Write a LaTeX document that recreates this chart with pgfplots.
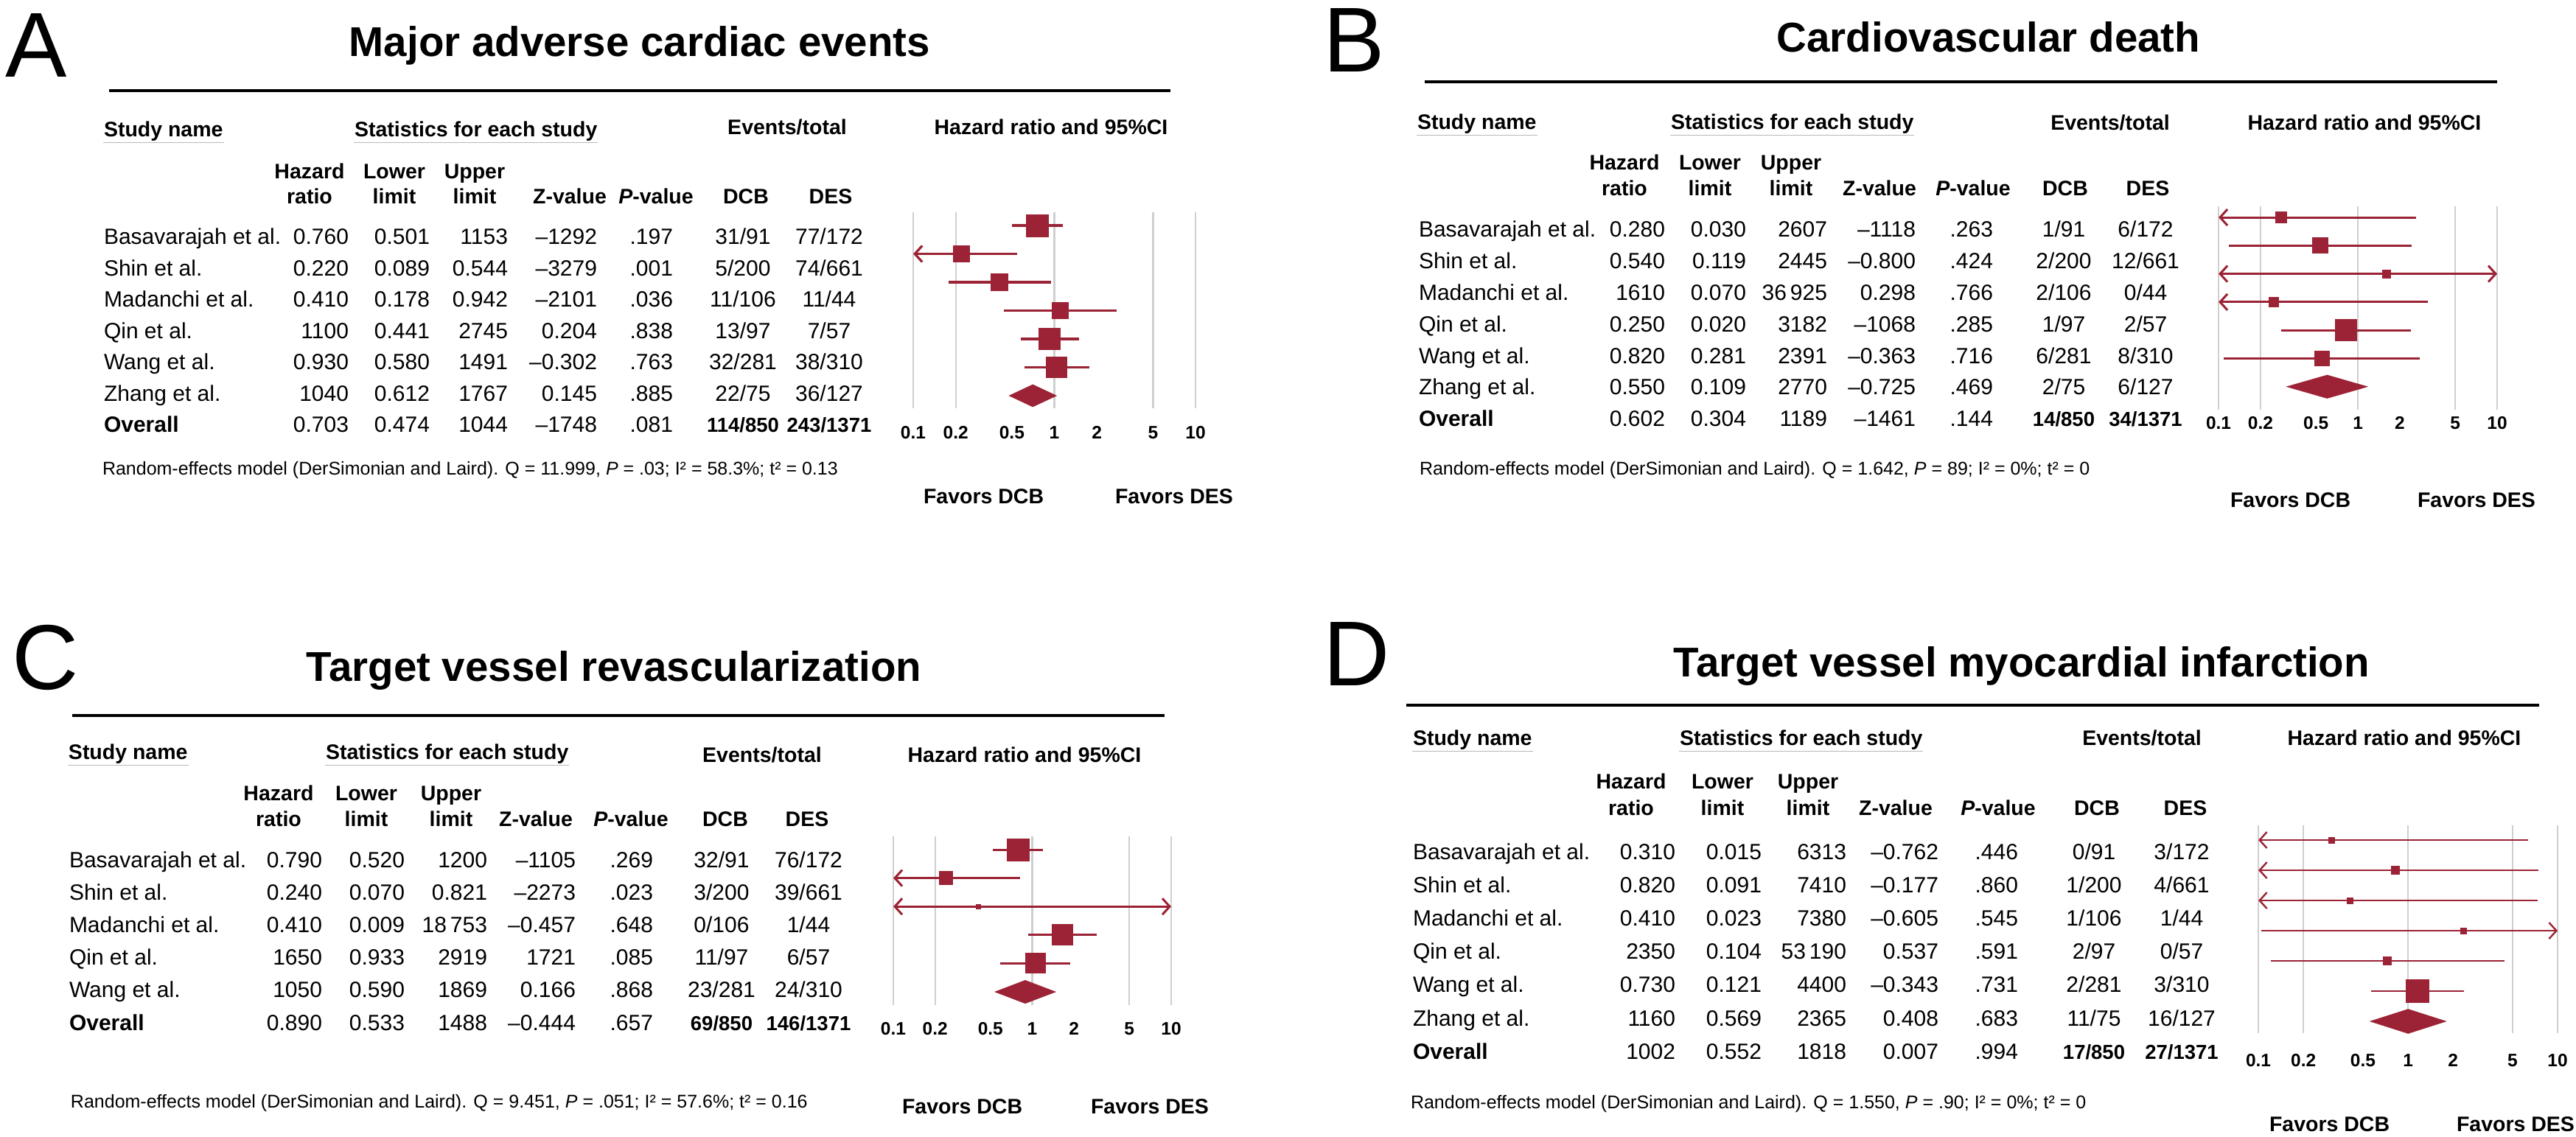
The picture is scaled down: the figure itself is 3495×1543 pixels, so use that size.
\documentclass[border=0pt]{standalone}
\usepackage{fontspec}
\setmainfont{Liberation Sans}
\usepackage{pgfplots}
\pgfplotsset{compat=1.18}
\usetikzlibrary{arrows.meta}

\definecolor{hrred}{HTML}{9B2335}
\definecolor{gridgray}{HTML}{CFCFCF}

\newcommand\fh{\fontsize{5.7}{6}\selectfont\bfseries}
\newcommand\fn{\fontsize{6}{7}\selectfont}
\newcommand\fo{\fontsize{5.5}{6}\selectfont\bfseries}
\newcommand\fr{\fontsize{5}{6}\selectfont}
\newcommand\ft{\fontsize{11.3}{13}\selectfont\bfseries}
\newcommand\fl{\fontsize{25}{30}\selectfont}
\def\ciw{0.65pt}

\tikzset{>={Straight Barb[length=2pt,width=4.4pt]}}

% all four axes are forest plots on the same log scale
\pgfplotsset{
  xmin=0.1, xmax=10, scale only axis, clip=false,
  axis line style={draw=none}, major tick length=0pt, minor tick length=0pt,
  ytick=\empty, xminorticks=false,
  xtick={0.1,0.2,0.5,1,2,5,10},
  xticklabels={0.1,0.2,0.5,1,2,5,10},
  xticklabel style={font=\bfseries\fontsize{4.9}{5}\selectfont, anchor=base, inner sep=0pt},
  ci/.style={hrred, line width=\ciw},
}

% [arrows] row, hazard ratio, lower, upper, half side of square
\newcommand\study[6][]{%
  \addplot[ci,#1] coordinates {(#4,-#2) (#5,-#2)};
  \addplot[hrred, only marks, mark=square*, mark size=#6, mark options={line width=0pt, fill=hrred, draw=hrred}] coordinates {(#3,-#2)};
}

% table helpers
\newcommand\setcols[8]{\def\cN{#1}\def\cH{#2}\def\cL{#3}\def\cU{#4}\def\cZ{#5}\def\cP{#6}\def\cD{#7}\def\cE{#8}}
\newcommand\trow[9]{%
  \node[anchor=base west] at (\cN,#1) {#2};
  \node[anchor=base east] at (\cH,#1) {#3};
  \node[anchor=base east] at (\cL,#1) {#4};
  \node[anchor=base east] at (\cU,#1) {#5};
  \node[anchor=base east] at (\cZ,#1) {#6};
  \node[anchor=base east] at (\cP,#1) {#7};
  \node[anchor=base] at (\cD,#1) {#8};
  \node[anchor=base] at (\cE,#1) {#9};
}
\newcommand\colheads[9]{%
  \node[font=\fh, anchor=base] at (#3,#1) {Hazard};
  \node[font=\fh, anchor=base] at (#3,#2) {ratio};
  \node[font=\fh, anchor=base] at (#4,#1) {Lower};
  \node[font=\fh, anchor=base] at (#4,#2) {limit};
  \node[font=\fh, anchor=base] at (#5,#1) {Upper};
  \node[font=\fh, anchor=base] at (#5,#2) {limit};
  \node[font=\fh, anchor=base] at (#6,#2) {Z-value};
  \node[font=\fh, anchor=base] at (#7,#2) {\textit{P}-value};
  \node[font=\fh, anchor=base] at (#8,#2) {DCB};
  \node[font=\fh, anchor=base] at (#9,#2) {DES};
}
\newcommand\uline[3]{%
  \node[font=\fh, anchor=base west] (u) at (#1,#2) {#3};
  \draw[gray!55, line width=0.35pt] ([yshift=-1.5pt]u.base west) -- ([yshift=-1.5pt]u.base east);
}
\newcommand\toprow[6]{% y, x study name, x statistics, centre events, centre HR, y of the two right headers
  \uline{#2}{#1}{Study name}
  \uline{#3}{#1}{Statistics for each study}
  \node[font=\fh, anchor=base] at (#4,#6) {Events/total};
  \node[font=\fh, anchor=base] at (#5,#6) {Hazard ratio and 95\%CI};
}

\begin{document}
\begin{tikzpicture}
\begin{scope}[x=0.2pt, y=-0.2pt, every node/.style={inner sep=0pt}, font=\fn]
\useasboundingbox (0,0) rectangle (3495,1543);

% ---------------- A ----------------
\node[font=\fl, anchor=base west] at (6,105) {A};
\node[font=\ft, anchor=base] at (868,77) {Major adverse cardiac events};
\draw[line width=0.8pt] (148,123) -- (1588,123);
\toprow{186}{140}{480}{1068}{1426}{183}
\colheads{243}{277}{420}{535}{644}{773}{890}{1012}{1127}
\setcols{140}{474}{584}{690}{811}{914}{1008}{1125}
\trow{332}{Basavarajah et al.}{0.760}{0.501}{1153}{\textendash1292}{.197}{31/91}{77/172}
\trow{374.5}{Shin et al.}{0.220}{0.089}{0.544}{\textendash3279}{.001}{5/200}{74/661}
\trow{417}{Madanchi et al.}{0.410}{0.178}{0.942}{\textendash2101}{.036}{11/106}{11/44}
\trow{459.5}{Qin et al.}{1100}{0.441}{2745}{0.204}{.838}{13/97}{7/57}
\trow{502}{Wang et al.}{0.930}{0.580}{1491}{\textendash0.302}{.763}{32/281}{38/310}
\trow{544.5}{Zhang et al.}{1040}{0.612}{1767}{0.145}{.885}{22/75}{36/127}
\trow{587}{\textbf{Overall}}{0.703}{0.474}{1044}{\textendash1748}{.081}{\fo 114/850}{\fo 243/1371}
\node[font=\fr, anchor=base west] at (138,645) {Random-effects model (DerSimonian and Laird). Q = 11.999, \textit{P} = .03; I² = 58.3\%; t² = 0.13};
\node[font=\fh, anchor=base west] at (1252,684) {Favors DCB};
\node[font=\fh, anchor=base west] at (1512,684) {Favors DES};

% ---------------- B ----------------
\node[font=\fl, anchor=base west] at (1794,98) {B};
\node[font=\ft, anchor=base] at (2698,71) {Cardiovascular death};
\draw[line width=0.8pt] (1933,111) -- (3388,111);
\toprow{176}{1922}{2266}{2863}{3208}{177}
\colheads{231}{266}{2204}{2320}{2430}{2550}{2677}{2802}{2914}
\setcols{1924}{2260}{2370}{2480}{2600}{2705}{2800}{2911}
\trow{322}{Basavarajah et al.}{0.280}{0.030}{2607}{\textendash1118}{.263}{1/91}{6/172}
\trow{364.8}{Shin et al.}{0.540}{0.119}{2445}{\textendash0.800}{.424}{2/200}{12/661}
\trow{407.6}{Madanchi et al.}{1610}{0.070}{36\,925}{0.298}{.766}{2/106}{0/44}
\trow{450.4}{Qin et al.}{0.250}{0.020}{3182}{\textendash1068}{.285}{1/97}{2/57}
\trow{493.2}{Wang et al.}{0.820}{0.281}{2391}{\textendash0.363}{.716}{6/281}{8/310}
\trow{536}{Zhang et al.}{0.550}{0.109}{2770}{\textendash0.725}{.469}{2/75}{6/127}
\trow{578.8}{\textbf{Overall}}{0.602}{0.304}{1189}{\textendash1461}{.144}{\fo 14/850}{\fo 34/1371}
\node[font=\fr, anchor=base west] at (1925,645) {Random-effects model (DerSimonian and Laird). Q = 1.642, \textit{P} = 89; I² = 0\%; t² = 0};
\node[font=\fh, anchor=base west] at (3025,689) {Favors DCB};
\node[font=\fh, anchor=base west] at (3279,689) {Favors DES};

% ---------------- C ----------------
\node[font=\fl, anchor=base west] at (16,936) {C};
\node[font=\ft, anchor=base] at (833,925) {Target vessel revascularization};
\draw[line width=0.8pt] (98,971) -- (1580,971);
\toprow{1031}{92}{441}{1034}{1390}{1034}
\colheads{1086}{1121}{378}{497}{612}{727}{856}{984}{1095}
\setcols{93}{438}{550}{662}{782}{887}{979}{1097}
\trow{1177}{Basavarajah et al.}{0.790}{0.520}{1200}{\textendash1105}{.269}{32/91}{76/172}
\trow{1221.2}{Shin et al.}{0.240}{0.070}{0.821}{\textendash2273}{.023}{3/200}{39/661}
\trow{1265.4}{Madanchi et al.}{0.410}{0.009}{18\,753}{\textendash0.457}{.648}{0/106}{1/44}
\trow{1309.6}{Qin et al.}{1650}{0.933}{2919}{1721}{.085}{11/97}{6/57}
\trow{1353.8}{Wang et al.}{1050}{0.590}{1869}{0.166}{.868}{23/281}{24/310}
\trow{1398}{\textbf{Overall}}{0.890}{0.533}{1488}{\textendash0.444}{.657}{\fo 69/850}{\fo 146/1371}
\node[font=\fr, anchor=base west] at (95,1503) {Random-effects model (DerSimonian and Laird). Q = 9.451, \textit{P} = .051; I² = 57.6\%; t² = 0.16};
\node[font=\fh, anchor=base west] at (1223,1511) {Favors DCB};
\node[font=\fh, anchor=base west] at (1479,1511) {Favors DES};

% ---------------- D ----------------
\node[font=\fl, anchor=base west] at (1794,931) {D};
\node[font=\ft, anchor=base] at (2743,918) {Target vessel myocardial infarction};
\draw[line width=0.8pt] (1908,957) -- (3445,957);
\toprow{1012}{1916}{2278}{2906}{3262}{1012}
\colheads{1071}{1107}{2213}{2337}{2453}{2572}{2711}{2845}{2965}
\setcols{1916}{2274}{2391}{2506}{2631}{2739}{2841}{2960}
\trow{1166}{Basavarajah et al.}{0.310}{0.015}{6313}{\textendash0.762}{.446}{0/91}{3/172}
\trow{1211.2}{Shin et al.}{0.820}{0.091}{7410}{\textendash0.177}{.860}{1/200}{4/661}
\trow{1256.4}{Madanchi et al.}{0.410}{0.023}{7380}{\textendash0.605}{.545}{1/106}{1/44}
\trow{1301.6}{Qin et al.}{2350}{0.104}{53\,190}{0.537}{.591}{2/97}{0/57}
\trow{1346.8}{Wang et al.}{0.730}{0.121}{4400}{\textendash0.343}{.731}{2/281}{3/310}
\trow{1392}{Zhang et al.}{1160}{0.569}{2365}{0.408}{.683}{11/75}{16/127}
\trow{1437.2}{\textbf{Overall}}{1002}{0.552}{1818}{0.007}{.994}{\fo 17/850}{\fo 27/1371}
\node[font=\fr, anchor=base west] at (1913,1504) {Random-effects model (DerSimonian and Laird). Q = 1.550, \textit{P} = .90; I² = 0\%; t² = 0};
\node[font=\fh, anchor=base west] at (3078,1535) {Favors DCB};
\node[font=\fh, anchor=base west] at (3332,1535) {Favors DES};
\end{scope}

% ---------------- forest plots ----------------
\begin{axis}[xmode=log, anchor=north west, at={(247.8pt,-57.6pt)}, width=76.6pt, height=53.2pt,
  ymin=-7.442, ymax=-0.532, xticklabel style={yshift=-8.2pt},
  extra x ticks={0.1,0.2,1,5,10}, extra x tick labels={},
  extra x tick style={grid=major, major grid style={gridgray, line width=0.45pt}}]
\study{1}{0.760}{0.501}{1.153}{3pt}
\study[<-]{2}{0.220}{0.1}{0.544}{2.2pt}
\study{3}{0.410}{0.178}{0.942}{2.3pt}
\study{4}{1.100}{0.441}{2.745}{2.2pt}
\study{5}{0.930}{0.580}{1.491}{2.9pt}
\study{6}{1.040}{0.612}{1.767}{2.8pt}
\addplot[fill=hrred, draw=none] coordinates {(0.474,-7) (0.703,-6.6) (1.044,-7) (0.703,-7.4) (0.474,-7)};
\end{axis}

\def\ciw{0.6pt}
\begin{axis}[xmode=log, anchor=north west, at={(602pt,-56pt)}, width=75.6pt, height=55.2pt,
  ymin=-7.815, ymax=-0.608, xticklabel style={yshift=-5.4pt},
  extra x ticks={0.1,0.2,1,5,10}, extra x tick labels={},
  extra x tick style={grid=major, major grid style={gridgray, line width=0.45pt}}]
\study[<-]{1}{0.280}{0.1}{2.607}{1.5pt}
\study{2}{0.540}{0.119}{2.445}{2.1pt}
\study[<->]{3}{1.610}{0.1}{10}{1.1pt}
\study[<-]{4}{0.250}{0.1}{3.182}{1.3pt}
\study{5}{0.820}{0.281}{2.391}{2.9pt}
\study{6}{0.550}{0.109}{2.770}{2.0pt}
\addplot[fill=hrred, draw=none] coordinates {(0.304,-7) (0.602,-6.58) (1.189,-7) (0.602,-7.42) (0.304,-7)};
\end{axis}

\begin{axis}[xmode=log, anchor=north west, at={(242.4pt,-227pt)}, width=75.4pt, height=45.8pt,
  ymin=-6.466, ymax=-0.534, xticklabel style={yshift=-8pt},
  extra x ticks={0.1,0.2,1,5,10}, extra x tick labels={},
  extra x tick style={grid=major, major grid style={gridgray, line width=0.45pt}}]
\study{1}{0.790}{0.520}{1.200}{3pt}
\study[<-]{2}{0.240}{0.1}{0.821}{1.8pt}
\study[<->]{3}{0.410}{0.1}{10}{0.6pt}
\study{4}{1.650}{0.933}{2.919}{2.8pt}
\study{5}{1.050}{0.590}{1.869}{2.7pt}
\addplot[fill=hrred, draw=none] coordinates {(0.533,-6) (0.890,-5.585) (1.488,-6) (0.890,-6.415) (0.533,-6)};
\end{axis}

\def\ciw{0.48pt}
\begin{axis}[xmode=log, anchor=north west, at={(612.8pt,-224pt)}, width=81.2pt, height=56.4pt,
  ymin=-7.39, ymax=-0.512, xticklabel style={yshift=-9pt},
  extra x ticks={0.1,0.2,1,5,10}, extra x tick labels={},
  extra x tick style={grid=major, major grid style={gridgray, line width=0.45pt}}]
\study[<-]{1}{0.310}{0.1}{6.313}{0.8pt}
\study[<-]{2}{0.820}{0.1}{7.410}{1.1pt}
\study[<-]{3}{0.410}{0.1}{7.380}{0.8pt}
\study[->]{4}{2.350}{0.104}{10}{0.8pt}
\study{5}{0.730}{0.121}{4.400}{1.1pt}
\study{6}{1.160}{0.569}{2.365}{3.1pt}
\addplot[fill=hrred, draw=none] coordinates {(0.552,-7) (1.002,-6.59) (1.818,-7) (1.002,-7.41) (0.552,-7)};
\end{axis}
\end{tikzpicture}
\end{document}
